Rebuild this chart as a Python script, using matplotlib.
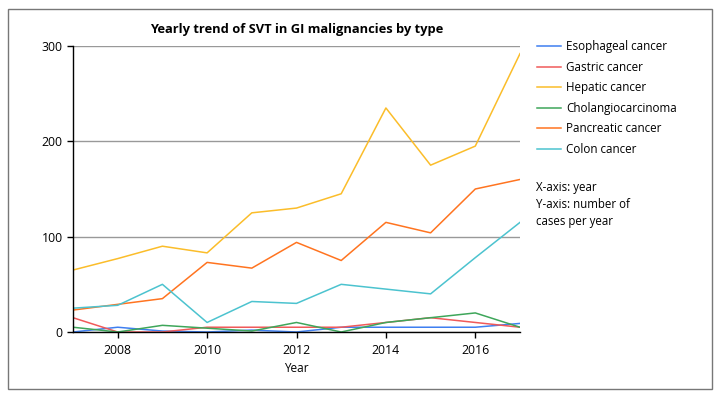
import numpy as np
import matplotlib.pyplot as plt
from matplotlib.patches import Rectangle

plt.rcParams['font.family'] = ['Open Sans', 'DejaVu Sans']

years = [2007, 2008, 2009, 2010, 2011, 2012, 2013, 2014, 2015, 2016, 2017]

esophageal = [0, 5, 1, 0, 2, 0, 5, 5, 5, 5, 9]
gastric = [15, 0, 0, 5, 5, 5, 5, 10, 15, 10, 5]
hepatic = [65, 77, 90, 83, 125, 130, 145, 235, 175, 195, 292]
cholangio = [5, 0, 7, 4, 1, 10, 0, 10, 15, 20, 5]
pancreatic = [23, 29, 35, 73, 67, 94, 75, 115, 104, 150, 160]
colon = [25, 28, 50, 10, 32, 30, 50, 45, 40, 78, 115]

series = [
    ('Esophageal cancer', esophageal, '#3f7ff0'),
    ('Gastric cancer', gastric, '#f05a5a'),
    ('Hepatic cancer', hepatic, '#fbbd2a'),
    ('Cholangiocarcinoma', cholangio, '#3ea65a'),
    ('Pancreatic cancer', pancreatic, '#ff7420'),
    ('Colon cancer', colon, '#4cc3cf'),
]

fig = plt.figure(figsize=(7.2, 3.97), dpi=100)

# outer frame
fig.patches.append(Rectangle((8 / 720, 8 / 397), 704 / 720, 380 / 397,
                             transform=fig.transFigure, fill=False,
                             edgecolor='#777777', linewidth=1.0))

ax = fig.add_axes([73 / 720, 65 / 397, 447 / 720, 286 / 397])

for name, vals, col in series:
    ax.plot(years, vals, color=col, linewidth=1.1, label=name)

ax.set_xlim(2007, 2017)
ax.set_ylim(0, 300)
ax.set_xticks([2008, 2010, 2012, 2014, 2016])
ax.set_yticks([0, 100, 200, 300])
ax.yaxis.grid(True, color='#999999', linewidth=1.0)
ax.set_axisbelow(True)
for s in ['top', 'right']:
    ax.spines[s].set_visible(False)
ax.spines['left'].set_linewidth(1.0)
ax.spines['bottom'].set_linewidth(1.0)
ax.tick_params(axis='both', labelsize=8.8, length=4, width=1.0, colors='black')
ax.tick_params(axis='x', pad=4.5)
ax.set_xlabel('Year', fontsize=8.5, labelpad=4)
ax.set_title('Yearly trend of SVT in GI malignancies by type',
             fontsize=9.3, fontweight='bold', pad=9)

ax.legend(loc='upper left', bbox_to_anchor=(535 / 720, 1 - 38 / 397),
          bbox_transform=fig.transFigure, frameon=False, fontsize=8.4,
          handlelength=2.0, handletextpad=0.45, labelspacing=0.64,
          borderaxespad=0, borderpad=0.2)

fig.text(536 / 720, 1 - 181 / 397, 'X-axis: year\nY-axis: number of\ncases per year',
         fontsize=8.3, va='top', ha='left', linespacing=1.38)

fig.savefig('out.png', dpi=100)
